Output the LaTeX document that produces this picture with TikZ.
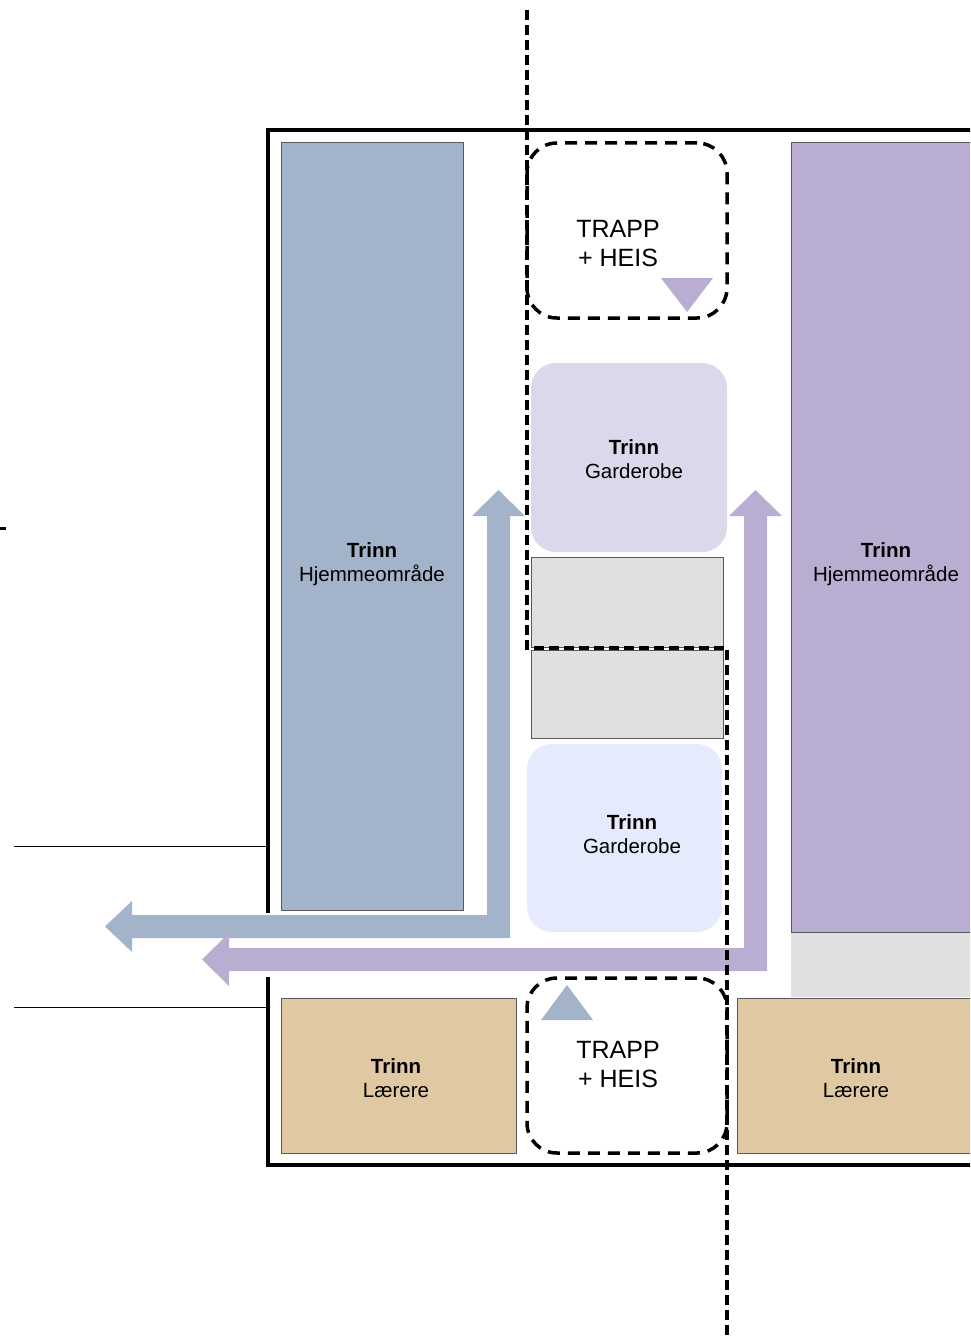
\documentclass[tikz,border=0pt]{standalone}
\usepackage{fontspec}
\setmainfont{Liberation Sans}
\definecolor{mblue}{HTML}{A3B3CA}
\definecolor{mpurple}{HTML}{B9ADD1}
\definecolor{lpurple}{HTML}{DCD7EA}
\definecolor{lblue}{HTML}{E5EAFC}
\definecolor{mgray}{HTML}{E0E0E0}
\definecolor{mtan}{HTML}{E0C9A2}
\tikzset{room/.style = {rectangle, draw=black!65, line width=0.8pt, inner sep=0}}
\tikzset{garde/.style = {rectangle, rounded corners=25pt, inner sep=0}}
\tikzset{stair/.style = {rectangle, draw, line width=3.5pt, dash pattern=on 12pt off 8pt,
                         rounded corners=30pt, inner sep=0}}
\tikzset{lbl/.style = {align=center, font=\fontsize{20.5}{24}\selectfont}}
\tikzset{biglbl/.style = {align=center, font=\fontsize{25}{29}\selectfont}}
\tikzset{cut/.style = {line width=3.5pt, dash pattern=on 10pt off 5pt}}

\begin{document}
\begin{tikzpicture}[x=1pt, y=-1pt]
    \useasboundingbox (0, 0) rectangle (970, 1340);
    \clip (0, 0) rectangle (970, 1340);

    % outer frame with the gap for the exits
    \draw [line width=3.5pt] (268, 913) -- (268, 130) -- (1000, 130);
    \draw [line width=3.5pt] (268, 977) -- (268, 1165) -- (1000, 1165);
    \draw [line width=0.8pt] (14, 846) -- (268, 846);
    \draw [line width=0.8pt] (14, 1007) -- (268, 1007);
    \draw [line width=3pt] (0, 528) -- (6, 528);

    % home areas
    \node [room, fill=mblue, minimum width=182, minimum height=768] (homeL) at (372, 526) {};
    \node [lbl] (homeLtxt) at (372, 564) {\textbf{Trinn}\\Hjemmeområde};
    \fill [mgray] (791, 932) rectangle (1000, 997);
    \node [room, fill=mpurple, minimum width=190, minimum height=790] (homeR) at (886, 537) {};
    \node [lbl] (homeRtxt) at (886, 564) {\textbf{Trinn}\\Hjemmeområde};

    % wardrobes
    \node [garde, fill=lpurple, minimum width=196, minimum height=189] (gardeT) at (629, 457.5) {};
    \node [lbl] (gardeTtxt) at (634, 459) {\textbf{Trinn}\\Garderobe};
    \node [room, fill=mgray, minimum width=192, minimum height=90] (storeA) at (627, 602) {};
    \node [room, fill=mgray, minimum width=192, minimum height=88] (storeB) at (627, 694) {};
    \node [garde, fill=lblue, minimum width=195, minimum height=188] (gardeB) at (624.5, 838) {};
    \node [lbl] (gardeBtxt) at (632, 834) {\textbf{Trinn}\\Garderobe};

    % teachers
    \node [room, fill=mtan, minimum width=235, minimum height=155] (teachL) at (398.5, 1075.5) {};
    \node [lbl] (teachLtxt) at (396, 1078) {\textbf{Trinn}\\Lærere};
    \node [room, fill=mtan, minimum width=240, minimum height=155] (teachR) at (857, 1075.5) {};
    \node [lbl] (teachRtxt) at (856, 1078) {\textbf{Trinn}\\Lærere};

    % stairs and lifts
    \node [stair, minimum width=200, minimum height=175] (stairT) at (627, 230.5) {};
    \node [biglbl] (stairTtxt) at (618, 244) {TRAPP\\+ HEIS};
    \fill [mpurple] (661, 278) -- (713, 278) -- (687, 312) -- cycle;
    \node [stair, minimum width=200, minimum height=175] (stairB) at (627, 1065.5) {};
    \node [biglbl] (stairBtxt) at (618, 1065) {TRAPP\\+ HEIS};
    \fill [mblue] (541, 1020) -- (593, 1020) -- (567, 985) -- cycle;

    % exit routes
    \fill [mblue] (510, 938) -- (510, 516) -- (525, 516) -- (498.5, 490) -- (472, 516) -- (487, 516)
        -- (487, 915) -- (132, 915) -- (132, 901) -- (105, 926.5) -- (132, 952) -- (132, 938) -- cycle;
    \fill [mpurple] (767, 971) -- (767, 516) -- (782, 516) -- (755.5, 490) -- (729, 516) -- (744, 516)
        -- (744, 948) -- (229, 948) -- (229, 933) -- (202, 959.5) -- (229, 986) -- (229, 971) -- cycle;

    % section line
    \draw [cut] (527, 10) -- (527, 648) -- (727, 648) -- (727, 1345);
\end{tikzpicture}
\end{document}
